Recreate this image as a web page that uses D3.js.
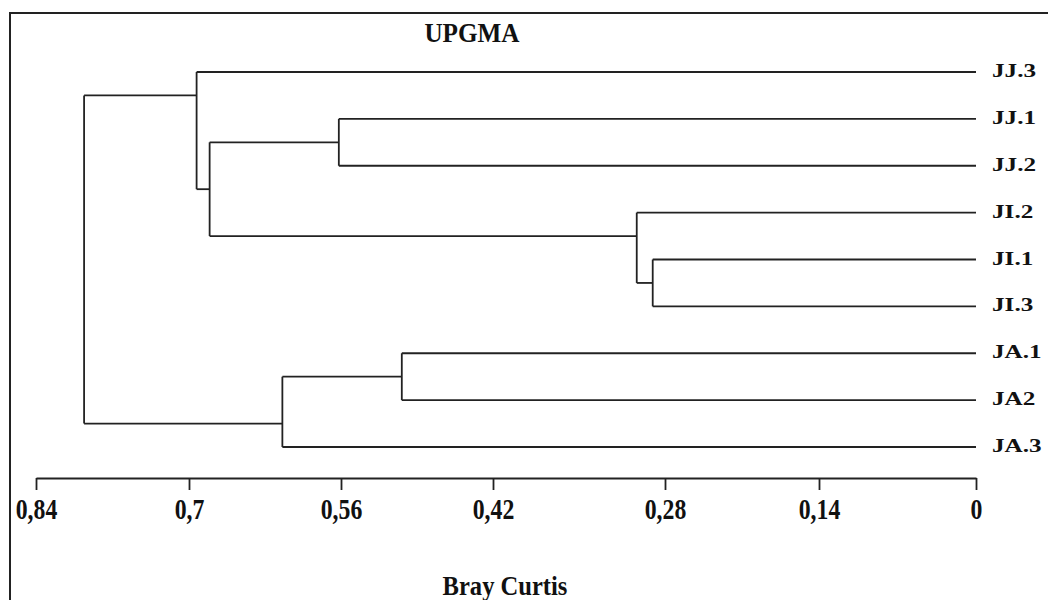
<!DOCTYPE html>
<html>
<head>
<meta charset="utf-8">
<script src="https://cdn.jsdelivr.net/npm/d3@7"></script>
<style>
  body { margin: 0; background: #fff; }
  text { font-family: "Liberation Serif", "Times New Roman", serif; font-weight: bold; fill: #111; }
</style>
</head>
<body>
<div id="chart"></div>
<script>
// leaves top to bottom
const leaves = ["JJ.3", "JJ.1", "JJ.2", "JI.2", "JI.1", "JI.3", "JA.1", "JA2", "JA.3"];
// merges: id, left child, right child, Bray-Curtis height
const mergeIds    = ["JJ",   "JIb",  "JI",   "JAb",  "JA",   "B",    "A",    "root"];
const mergeLeft   = ["JJ.1", "JI.1", "JI.2", "JA.1", "JAb",  "JJ",   "JJ.3", "A"];
const mergeRight  = ["JJ.2", "JI.3", "JIb",  "JA2",  "JA.3", "JI",   "B",    "JA"];
const mergeHeight = [0.562,  0.290,  0.303,  0.504,  0.614,  0.681,  0.693,  0.796];
const tickValues  = [0.84, 0.7, 0.56, 0.42, 0.28, 0.14, 0];
const tickLabels  = ["0,84", "0,7", "0,56", "0,42", "0,28", "0,14", "0"];

const W = 1048, H = 600;
const svg = d3.select("#chart").append("svg").attr("width", W).attr("height", H);

// frame (only top and left edges visible)
svg.append("rect").attr("x", 10).attr("y", 13).attr("width", 1200).attr("height", 800)
  .attr("fill", "none").attr("stroke", "#222").attr("stroke-width", 2);

// x scale: the source figure is unevenly stretched, so use piecewise stops
const x = d3.scaleLinear().domain(tickValues).range([36, 189, 341, 493, 665, 819, 976]);
const y = d3.scalePoint().domain(leaves).range([72, 447]);

// build node info
const nodes = {};
leaves.forEach(function(l, i) {
  nodes[l] = { h: 0, first: i, last: i, y: y(l) };
});
mergeIds.forEach(function(id, i) {
  var L = nodes[mergeLeft[i]], R = nodes[mergeRight[i]];
  // node sits between last leaf of left branch and first leaf of right branch
  var ny = (y(leaves[L.last]) + y(leaves[R.first])) / 2;
  nodes[id] = { h: mergeHeight[i], first: L.first, last: R.last, y: ny };
});

const g = svg.append("g").attr("stroke", "#222").attr("stroke-width", 1.8).attr("fill", "none");
mergeIds.forEach(function(id, i) {
  var n = nodes[id], L = nodes[mergeLeft[i]], R = nodes[mergeRight[i]];
  var nx = x(n.h);
  g.append("line").attr("x1", nx).attr("x2", nx).attr("y1", L.y).attr("y2", R.y);
  [L, R].forEach(function(c) {
    g.append("line").attr("x1", nx).attr("x2", x(c.h)).attr("y1", c.y).attr("y2", c.y);
  });
});

// leaf labels
svg.selectAll(".leaf").data(leaves).enter().append("text")
  .attr("class", "leaf")
  .attr("transform", d => "translate(" + (x(0) + 16) + "," + (y(d) + 5) + ") scale(1.4,1)")
  .attr("font-size", 18)
  .text(d => d);

// axis
const axis = d3.axisBottom(x).tickValues(tickValues).tickSize(12).tickSizeOuter(0)
  .tickFormat((d, i) => tickLabels[i]);
const ax = svg.append("g").attr("transform", "translate(0,478)").call(axis);
ax.select(".domain").attr("stroke", "#222").attr("stroke-width", 1.8);
ax.selectAll(".tick line").attr("stroke", "#222").attr("stroke-width", 1.8);
ax.selectAll(".tick text")
  .attr("font-family", "Liberation Serif, serif")
  .attr("font-weight", "bold")
  .attr("font-size", 29)
  .attr("fill", "#111")
  .attr("y", 41).attr("dy", null)
  .attr("transform", "scale(0.82,1)");

// title and axis name
svg.append("text").attr("text-anchor", "middle").attr("font-size", 28)
  .attr("transform", "translate(472,42) scale(0.9,1)").text("UPGMA");
svg.append("text").attr("text-anchor", "middle").attr("font-size", 27)
  .attr("transform", "translate(505,595) scale(0.91,1)").text("Bray Curtis");
</script>
</body>
</html>
